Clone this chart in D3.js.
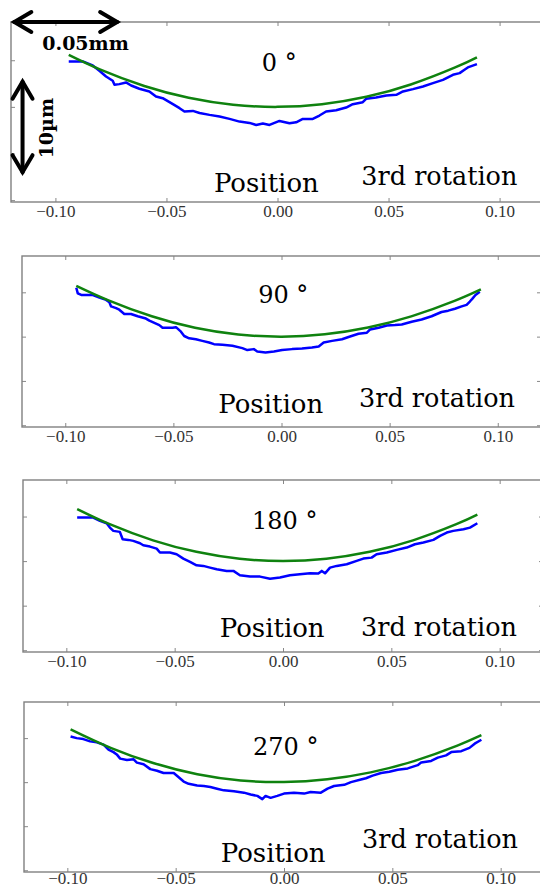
<!DOCTYPE html>
<html>
<head>
<meta charset="utf-8">
<title>Profile scans, 3rd rotation</title>
<script src="https://cdn.jsdelivr.net/npm/d3@7"></script>
<style>
    body { margin: 0; background: #fff; }
    svg { display: block; }
    .tick text { font-family: "Liberation Serif", serif; font-size: 17px; fill: #333; }
    .tick line { stroke: #888; }
    .label { font-family: "DejaVu Serif", serif; fill: #000; }
</style>
</head>
<body>
<svg id="chart" width="540" height="889"></svg>
<script>
    // x in mm, y in µm
    var xTicks = [-0.10, -0.05, 0.00, 0.05, 0.10];
    var yTicks = [-10, -5, 0, 5];
    var angles = ["0 °", "90 °", "180 °", "270 °"];
    var runLabel = "3rd rotation";
    var axisLabel = "Position";

    // fitted curve (green)
    var fit0 = [[-0.094, 5.57], [-0.08, 4.02], [-0.06, 2.24], [-0.04, 0.98], [-0.02, 0.23], [0, 0.0],
        [0.02, 0.28], [0.04, 1.08], [0.06, 2.40], [0.08, 4.23], [0.0898, 5.31]];
    var fit1 = [[-0.0949, 5.74], [-0.08, 4.1], [-0.06, 2.3], [-0.04, 1.0], [-0.02, 0.24], [0, 0.0],
        [0.02, 0.26], [0.04, 1.03], [0.06, 2.28], [0.08, 4.03], [0.0922, 5.33]];
    var fit2 = [[-0.095, 5.84], [-0.08, 4.14], [-0.06, 2.33], [-0.04, 1.04], [-0.02, 0.26], [0, 0.0],
        [0.02, 0.26], [0.04, 1.04], [0.06, 2.33], [0.08, 4.14], [0.0897, 5.21]];
    var fit3 = [[-0.0985, 6.0], [-0.08, 3.90], [-0.06, 2.14], [-0.04, 0.90], [-0.02, 0.19], [0, 0.01],
        [0.02, 0.32], [0.04, 1.11], [0.06, 2.39], [0.08, 4.15], [0.0911, 5.33]];

    // measured profile (blue)
    var scan0 = [[-0.0940, 4.87], [-0.0877, 4.87], [-0.0832, 4.44], [-0.0802, 3.87], [-0.0772, 3.26],
        [-0.0742, 2.80], [-0.0734, 2.37], [-0.0712, 2.44], [-0.0682, 2.62], [-0.0659, 2.29], [-0.0622, 1.94],
        [-0.0577, 1.65], [-0.0547, 1.11], [-0.0517, 0.93], [-0.0471, 0.29], [-0.0441, -0.14], [-0.0419, -0.50],
        [-0.0381, -0.43], [-0.0351, -0.65], [-0.0306, -0.86], [-0.0261, -1.04], [-0.0216, -1.29], [-0.0171, -1.58],
        [-0.0126, -1.72], [-0.0096, -1.94], [-0.0066, -1.79], [-0.0036, -1.94], [0.0009, -1.51], [0.0054, -1.76],
        [0.0084, -1.65], [0.0114, -1.29], [0.0159, -1.29], [0.0189, -0.93], [0.0219, -0.50], [0.0264, -0.36],
        [0.0309, -0.07], [0.0339, 0.29], [0.0384, 0.50], [0.0399, 0.86], [0.0444, 1.00], [0.0490, 1.22],
        [0.0535, 1.29], [0.0565, 1.65], [0.0610, 1.90], [0.0655, 2.19], [0.0700, 2.54], [0.0745, 2.90],
        [0.0790, 3.44], [0.0820, 3.62], [0.0842, 3.98], [0.0857, 4.23], [0.0898, 4.59]];
    var scan1 = [[-0.0949, 5.52], [-0.0942, 4.89], [-0.0926, 4.70], [-0.0872, 4.70], [-0.0842, 4.41],
        [-0.0811, 4.15], [-0.0796, 3.89], [-0.0788, 3.41], [-0.0765, 3.22], [-0.0750, 3.04], [-0.0727, 2.56],
        [-0.0696, 2.56], [-0.0665, 2.30], [-0.0627, 2.04], [-0.0611, 1.81], [-0.0588, 1.56], [-0.0565, 1.30],
        [-0.0550, 1.00], [-0.0504, 1.00], [-0.0488, 1.07], [-0.0465, 0.56], [-0.0450, 0.07], [-0.0427, -0.19],
        [-0.0396, -0.30], [-0.0366, -0.48], [-0.0335, -0.67], [-0.0312, -0.85], [-0.0273, -0.93], [-0.0227, -1.04],
        [-0.0181, -1.30], [-0.0158, -1.52], [-0.0128, -1.41], [-0.0112, -1.67], [-0.0074, -1.78], [-0.0035, -1.67],
        [0.0003, -1.52], [0.0049, -1.41], [0.0095, -1.33], [0.0141, -1.22], [0.0172, -1.11], [0.0195, -0.67],
        [0.0234, -0.48], [0.0280, -0.30], [0.0310, -0.04], [0.0356, 0.33], [0.0395, 0.44], [0.0410, 0.81],
        [0.0449, 1.00], [0.0487, 1.26], [0.0525, 1.30], [0.0556, 1.37], [0.0602, 1.67], [0.0648, 1.93],
        [0.0694, 2.30], [0.0740, 2.78], [0.0771, 2.93], [0.0802, 3.15], [0.0833, 3.41], [0.0856, 3.59],
        [0.0871, 3.96], [0.0882, 4.26], [0.0897, 4.70], [0.0917, 5.07]];
    var scan2 = [[-0.0950, 4.89], [-0.0876, 4.89], [-0.0845, 4.51], [-0.0814, 4.25], [-0.0799, 3.76],
        [-0.0783, 3.39], [-0.0753, 3.28], [-0.0740, 2.45], [-0.0714, 2.38], [-0.0691, 2.27], [-0.0660, 2.00],
        [-0.0645, 1.78], [-0.0614, 1.63], [-0.0583, 1.40], [-0.0568, 0.96], [-0.0522, 0.96], [-0.0491, 0.77],
        [-0.0460, 0.28], [-0.0429, -0.09], [-0.0399, -0.47], [-0.0368, -0.54], [-0.0337, -0.73], [-0.0306, -0.92],
        [-0.0260, -1.10], [-0.0229, -1.10], [-0.0199, -1.59], [-0.0152, -1.74], [-0.0106, -1.74], [-0.0060, -1.97],
        [-0.0014, -1.85], [0.0032, -1.59], [0.0078, -1.48], [0.0125, -1.37], [0.0163, -1.40], [0.0179, -1.10],
        [0.0194, -1.37], [0.0217, -0.73], [0.0248, -0.54], [0.0294, -0.36], [0.0340, 0.02], [0.0371, 0.28],
        [0.0409, 0.39], [0.0432, 0.77], [0.0479, 0.96], [0.0525, 1.26], [0.0571, 1.52], [0.0609, 1.89],
        [0.0648, 2.08], [0.0694, 2.38], [0.0725, 2.83], [0.0756, 3.20], [0.0786, 3.39], [0.0833, 3.58],
        [0.0863, 3.76], [0.0897, 4.25]];
    var scan3 = [[-0.0985, 5.19], [-0.0957, 5.00], [-0.0926, 4.89], [-0.0895, 4.63], [-0.0864, 4.52],
        [-0.0833, 4.26], [-0.0810, 3.70], [-0.0787, 3.41], [-0.0772, 3.15], [-0.0756, 2.67], [-0.0725, 2.52],
        [-0.0694, 2.59], [-0.0679, 2.22], [-0.0648, 2.04], [-0.0617, 1.48], [-0.0586, 1.30], [-0.0556, 1.04],
        [-0.0509, 1.04], [-0.0486, 0.56], [-0.0463, 0.07], [-0.0440, -0.19], [-0.0401, -0.37], [-0.0370, -0.44],
        [-0.0340, -0.56], [-0.0309, -0.74], [-0.0278, -0.93], [-0.0231, -1.04], [-0.0185, -1.19], [-0.0154, -1.41],
        [-0.0123, -1.56], [-0.0100, -1.93], [-0.0085, -1.56], [-0.0062, -1.78], [-0.0031, -1.56], [0.0000, -1.30],
        [0.0046, -1.19], [0.0093, -1.30], [0.0123, -1.11], [0.0170, -1.19], [0.0201, -0.74], [0.0231, -0.44],
        [0.0278, -0.30], [0.0309, 0.00], [0.0355, 0.30], [0.0378, 0.44], [0.0409, 0.74], [0.0448, 1.04],
        [0.0486, 1.19], [0.0525, 1.41], [0.0571, 1.56], [0.0617, 1.93], [0.0633, 2.22], [0.0679, 2.41],
        [0.0710, 2.78], [0.0748, 3.04], [0.0772, 3.41], [0.0818, 3.52], [0.0856, 3.89], [0.0880, 4.37],
        [0.0911, 4.81]];

    var fits = [fit0, fit1, fit2, fit3];
    var scans = [scan0, scan1, scan2, scan3];

    // panel boxes in the page (px) and label baselines
    var layout = [
        {left: 11, right: 544, top: 22, bottom: 202, angleY: 49, posY: -10, runY: -17},
        {left: 22, right: 541, top: 256, bottom: 427, angleY: 47, posY: -14, runY: -20},
        {left: 23, right: 543, top: 480, bottom: 652, angleY: 49, posY: -15, runY: -16},
        {left: 24, right: 544, top: 702, bottom: 872, angleY: 53, posY: -10, runY: -24}
    ];

    var svg = d3.select("#chart");
    var fmt = d3.format(".2f");

    layout.forEach(function (p, i) {
        var x = d3.scaleLinear().domain([-0.12, 0.12]).range([p.left, p.right]);
        var y = d3.scaleLinear().domain([-10.2, 9.1]).range([p.bottom, p.top]);
        var g = svg.append("g");

        g.append("g")
            .attr("transform", "translate(0," + p.bottom + ")")
            .call(d3.axisBottom(x).tickValues(xTicks).tickSize(-4).tickPadding(i === 3 ? 0 : 3).tickFormat(fmt))
            .call(function (a) { a.select(".domain").remove(); });
        g.append("g")
            .attr("transform", "translate(0," + p.top + ")")
            .call(d3.axisTop(x).tickValues(xTicks).tickSize(-4).tickFormat(""))
            .call(function (a) { a.select(".domain").remove(); });
        g.append("g")
            .attr("transform", "translate(" + p.left + ",0)")
            .call(d3.axisLeft(y).tickValues(yTicks).tickSize(-4).tickFormat(""))
            .call(function (a) { a.select(".domain").remove(); });
        g.append("g")
            .attr("transform", "translate(" + p.right + ",0)")
            .call(d3.axisRight(y).tickValues(yTicks).tickSize(-4).tickFormat(""))
            .call(function (a) { a.select(".domain").remove(); });

        g.append("rect")
            .attr("x", p.left).attr("y", p.top)
            .attr("width", p.right - p.left).attr("height", p.bottom - p.top)
            .attr("fill", "none").attr("stroke", "#808080").attr("stroke-width", 1.4);

        var line = d3.line().x(function (d) { return x(d[0]); }).y(function (d) { return y(d[1]); });

        g.append("path")
            .datum(scans[i])
            .attr("d", line)
            .attr("fill", "none").attr("stroke", "#0000ff").attr("stroke-width", 2.5)
            .attr("stroke-linejoin", "round");

        g.append("path")
            .datum(fits[i])
            .attr("d", line.curve(d3.curveNatural))
            .attr("fill", "none").attr("stroke", "#0f820f").attr("stroke-width", 2.5);

        g.append("text").attr("class", "label")
            .attr("x", x(0.0008)).attr("y", p.top + p.angleY)
            .attr("text-anchor", "middle").style("font-size", "24px")
            .text(angles[i]);
        g.append("text").attr("class", "label")
            .attr("x", x(-0.005)).attr("y", p.bottom + p.posY)
            .attr("text-anchor", "middle").style("font-size", "26px")
            .text(axisLabel);
        g.append("text").attr("class", "label")
            .attr("x", x(0.108)).attr("y", p.bottom + p.runY)
            .attr("text-anchor", "end").style("font-size", "25.5px")
            .text(runLabel);

        // scale bars drawn on the first panel only
        if (i === 0) {
            var hx0 = x(-0.1185), hx1 = x(-0.0722), hy = p.top;
            var vx = x(-0.1148), vy0 = y(2.7), vy1 = y(-7.0);
            var ann = g.append("g").attr("fill", "none").attr("stroke", "#000")
                .attr("stroke-width", 4).attr("stroke-linecap", "round").attr("stroke-linejoin", "miter");
            ann.append("line").attr("x1", hx0).attr("x2", hx1).attr("y1", hy).attr("y2", hy);
            ann.append("path").attr("d", "M" + (hx0 + 17) + "," + (hy - 10) + "L" + hx0 + "," + hy + "L" + (hx0 + 17) + "," + (hy + 10));
            ann.append("path").attr("d", "M" + (hx1 - 17) + "," + (hy - 10) + "L" + hx1 + "," + hy + "L" + (hx1 - 17) + "," + (hy + 10));
            ann.append("line").attr("x1", vx).attr("x2", vx).attr("y1", vy0).attr("y2", vy1);
            ann.append("path").attr("d", "M" + (vx - 10) + "," + (vy0 + 17) + "L" + vx + "," + vy0 + "L" + (vx + 10) + "," + (vy0 + 17));
            ann.append("path").attr("d", "M" + (vx - 10) + "," + (vy1 - 17) + "L" + vx + "," + vy1 + "L" + (vx + 10) + "," + (vy1 - 17));

            g.append("text").attr("class", "label")
                .attr("x", x(-0.1059)).attr("y", y(6.14))
                .style("font-size", "19px").style("font-weight", "bold")
                .text("0.05mm");
            g.append("text").attr("class", "label")
                .attr("transform", "translate(" + x(-0.1012) + "," + y(-2.28) + ") rotate(-90)")
                .attr("text-anchor", "middle").style("font-size", "19px").style("font-weight", "bold")
                .text("10µm");
        }
    });
</script>
</body>
</html>
